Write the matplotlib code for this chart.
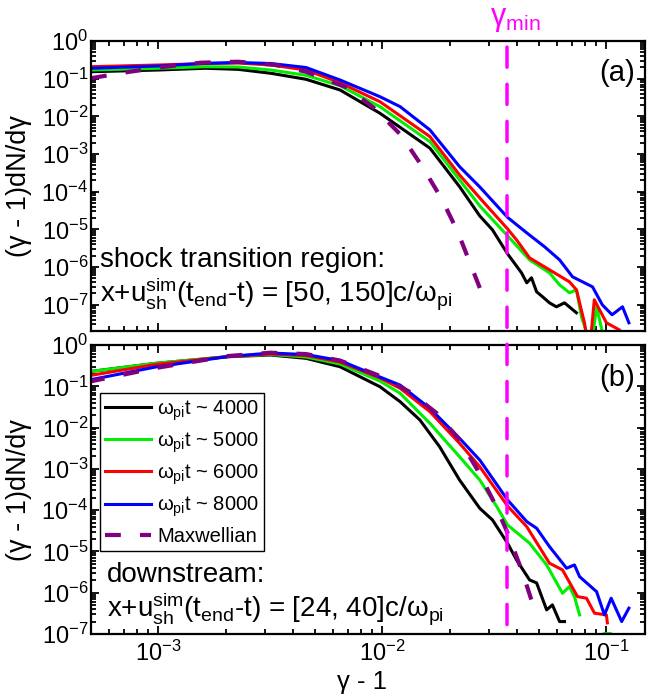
import numpy as np
import matplotlib.pyplot as plt
from matplotlib.patches import ConnectionPatch
from matplotlib.ticker import LogLocator, FixedLocator, LogFormatterMathtext, NullFormatter

plt.rcParams['font.family'] = ['Liberation Sans', 'DejaVu Sans']
plt.rcParams['mathtext.fontset'] = 'custom'
plt.rcParams['mathtext.rm'] = 'Liberation Sans'
plt.rcParams['mathtext.it'] = 'Liberation Sans:italic'
plt.rcParams['mathtext.bf'] = 'Liberation Sans:bold'
plt.rcParams['axes.unicode_minus'] = False

# spectra in the shock transition region, x = gamma - 1, y = (gamma - 1) dN/dgamma
trans_x_4000 = [5.0e-4, 1.0e-3, 1.62e-3, 2.27e-3, 3.18e-3, 4.56e-3, 6.47e-3, 9.75e-3, 1.63e-2, 2.21e-2,
                2.72e-2, 3.10e-2, 3.62e-2, 4.18e-2, 4.41e-2, 4.63e-2, 4.88e-2, 5.19e-2, 5.57e-2, 5.98e-2,
                6.50e-2, 7.35e-2]
trans_y_4000 = [0.153, 0.170, 0.189, 0.177, 0.139, 0.0964, 0.0501, 0.0121, 1.43e-3, 1.36e-4,
                2.28e-5, 9.7e-6, 2.24e-6, 7.0e-7, 3.81e-7, 5.18e-7, 2.20e-7, 1.62e-7, 1.12e-7, 8.8e-8,
                1.12e-7, 6.1e-8]

trans_x_5000 = [5.0e-4, 1.0e-3, 1.62e-3, 2.27e-3, 3.18e-3, 4.56e-3, 6.47e-3, 9.75e-3, 1.63e-2, 2.21e-2,
                2.72e-2, 3.62e-2, 4.54e-2, 5.57e-2, 6.18e-2, 6.84e-2, 7.35e-2, 7.74e-2, 8.15e-2, 8.49e-2,
                9.04e-2, 9.59e-2]
trans_y_5000 = [0.170, 0.189, 0.208, 0.204, 0.170, 0.123, 0.0652, 0.0181, 2.13e-3, 2.06e-4,
                4.2e-5, 6.73e-6, 1.55e-6, 7.0e-7, 3.37e-7, 2.07e-7, 2.48e-7, 4.78e-8, 1.91e-8, 5e-9,
                8.8e-8, 1.9e-8]

trans_x_6000 = [5.0e-4, 1.0e-3, 1.62e-3, 2.27e-3, 3.18e-3, 4.56e-3, 6.47e-3, 9.75e-3, 1.63e-2, 2.21e-2,
                2.72e-2, 3.62e-2, 3.97e-2, 4.54e-2, 5.57e-2, 6.84e-2, 7.35e-2, 7.98e-2, 8.39e-2, 8.83e-2,
                0.100, 0.114]
trans_y_6000 = [0.208, 0.231, 0.253, 0.261, 0.231, 0.170, 0.0783, 0.0245, 2.90e-3, 2.79e-4,
                6.85e-5, 1.03e-5, 5.26e-6, 1.75e-6, 8.43e-7, 4.05e-7, 2.48e-7, 3.31e-8, 5e-9, 1.35e-7,
                3.31e-8, 2.16e-8]

trans_x_8000 = [5.0e-4, 1.0e-3, 1.62e-3, 2.27e-3, 3.18e-3, 4.56e-3, 6.47e-3, 9.75e-3, 1.20e-2, 1.63e-2,
                2.21e-2, 2.72e-2, 3.62e-2, 4.41e-2, 5.30e-2, 6.18e-2, 7.06e-2, 8.67e-2, 9.59e-2, 0.106,
                0.118, 0.126]
trans_y_8000 = [0.189, 0.217, 0.256, 0.269, 0.253, 0.198, 0.0924, 0.0333, 0.0181, 4.36e-3,
                4.63e-4, 1.34e-4, 2.08e-5, 8.07e-6, 3.44e-6, 1.55e-6, 5.5e-7, 2.98e-7, 9.9e-8, 5.4e-8,
                8.8e-8, 3.31e-8]

trans_x_maxw = [5.0e-4, 7.35e-4, 1.07e-3, 1.55e-3, 2.27e-3, 3.36e-3, 4.56e-3, 6.95e-3, 9.17e-3, 1.21e-2,
                1.51e-2, 1.84e-2, 2.17e-2, 2.50e-2, 2.89e-2]
trans_y_maxw = [0.103, 0.151, 0.208, 0.266, 0.282, 0.231, 0.153, 0.0584, 0.0167, 3.21e-3,
                4.55e-4, 6.44e-5, 8.59e-6, 1.01e-6, 1.12e-7]

# spectra downstream
down_x_4000 = [4.9e-4, 9.7e-4, 2.05e-3, 3.16e-3, 4.56e-3, 6.47e-3, 9.75e-3, 1.20e-2, 1.47e-2, 1.80e-2,
               2.21e-2, 2.72e-2, 3.10e-2, 3.62e-2, 3.97e-2, 4.54e-2, 4.88e-2, 5.41e-2, 5.74e-2, 6.18e-2,
               6.50e-2]
down_y_4000 = [0.226, 0.360, 0.521, 0.573, 0.476, 0.298, 0.0978, 0.0424, 0.0153, 3.45e-3,
               5.38e-4, 1.11e-4, 5.79e-5, 1.58e-5, 6.23e-6, 2.04e-6, 1.73e-6, 3.84e-7, 5.07e-7, 2.0e-7,
               2.0e-7]

down_x_5000 = [4.9e-4, 9.7e-4, 2.05e-3, 3.16e-3, 4.56e-3, 6.47e-3, 9.75e-3, 1.20e-2, 1.63e-2, 2.21e-2,
               2.72e-2, 3.24e-2, 3.62e-2, 4.54e-2, 5.41e-2, 6.37e-2, 6.84e-2, 7.20e-2, 7.59e-2, np.nan,
               9.8e-2, 0.104]
down_y_5000 = [0.226, 0.360, 0.527, 0.589, 0.512, 0.347, 0.134, 0.0677, 0.0127, 1.97e-3,
               5.38e-4, 1.22e-4, 4.38e-5, 1.58e-5, 4.71e-6, 9.7e-7, 1.41e-6, 8.05e-7, 2.90e-7, np.nan,
               1.02e-7, 1.02e-7]

down_x_6000 = [4.9e-4, 9.7e-4, 2.05e-3, 3.16e-3, 4.56e-3, 6.47e-3, 9.75e-3, 1.20e-2, 1.63e-2, 2.21e-2,
               2.72e-2, 3.62e-2, 4.41e-2, 5.57e-2, 6.37e-2, 7.43e-2, 8.15e-2, 8.85e-2, 0.100, 0.101]
down_y_6000 = [0.181, 0.337, 0.527, 0.605, 0.557, 0.388, 0.159, 0.0895, 0.0243, 4.17e-3,
               1.13e-3, 1.26e-4, 3.98e-5, 5.18e-6, 3.56e-6, 8.05e-7, 7.36e-7, 3.19e-7, 2.90e-7, 1.86e-7]

down_x_8000 = [4.9e-4, 9.7e-4, 2.05e-3, 3.16e-3, 4.56e-3, 6.47e-3, 9.75e-3, 1.20e-2, 1.63e-2, 2.21e-2,
               2.72e-2, 3.62e-2, 4.41e-2, 4.88e-2, 5.57e-2, 6.64e-2, 7.20e-2, 7.59e-2, 9.04e-2, 9.80e-2,
               0.105, 0.117, 0.126]
down_y_8000 = [0.142, 0.293, 0.527, 0.640, 0.589, 0.421, 0.168, 0.107, 0.0293, 5.51e-3,
               1.64e-3, 1.77e-4, 5.27e-5, 3.65e-5, 1.31e-5, 3.92e-6, 4.71e-6, 2.45e-6, 1.06e-6, 2.90e-7,
               7.36e-7, 2.0e-7, 4.22e-7]

down_x_maxw = [4.9e-4, 9.7e-4, 2.05e-3, 3.16e-3, 4.56e-3, 6.47e-3, 9.75e-3, 1.32e-2, 1.75e-2, 2.21e-2,
               2.66e-2, 3.17e-2, 3.62e-2, 4.23e-2, 4.78e-2, 4.93e-2]
down_y_maxw = [0.129, 0.277, 0.542, 0.651, 0.605, 0.421, 0.178, 0.074, 0.0222, 5.01e-3,
               9.4e-4, 1.47e-4, 2.81e-5, 3.01e-6, 3.84e-7, 2.59e-7]

gamma_min = 0.036

times = [4000, 5000, 6000, 8000]
colors = ['black', '#00ee00', 'red', 'blue']
maxw_color = '#800080'

y_decades = [1e-7, 1e-6, 1e-5, 1e-4, 1e-3, 1e-2, 1e-1, 1e0]

trans_x = [trans_x_4000, trans_x_5000, trans_x_6000, trans_x_8000]
trans_y = [trans_y_4000, trans_y_5000, trans_y_6000, trans_y_8000]
down_x = [down_x_4000, down_x_5000, down_x_6000, down_x_8000]
down_y = [down_y_4000, down_y_5000, down_y_6000, down_y_8000]

fig = plt.figure(figsize=(6.47, 7.0), dpi=100)
ax_a = fig.add_axes([0.1406, 0.5271, 0.8556, 0.4143])
ax_b = fig.add_axes([0.1406, 0.0943, 0.8556, 0.4128])

for i in range(4):
    ax_a.plot(trans_x[i], trans_y[i], color=colors[i], lw=2.2)
    ax_b.plot(down_x[i], down_y[i], color=colors[i], lw=2.2,
              label=r'ω$_{\mathrm{pi}}$t ~ %d' % times[i])
ax_a.plot(trans_x_maxw, trans_y_maxw, color=maxw_color, lw=3, ls=(0, (3.8, 4.6)))
ax_b.plot(down_x_maxw, down_y_maxw, color=maxw_color, lw=3, ls=(0, (3.8, 4.6)), label='Maxwellian')

for ax in [ax_a, ax_b]:
    ax.set_xscale('log')
    ax.set_yscale('log')
    ax.set_xlim(5e-4, 0.148)
    ax.yaxis.set_major_locator(FixedLocator(y_decades))
    ax.yaxis.set_minor_locator(LogLocator(base=10, subs=np.arange(2, 10), numticks=20))
    ax.yaxis.set_major_formatter(LogFormatterMathtext())
    ax.yaxis.set_minor_formatter(NullFormatter())
    ax.xaxis.set_minor_formatter(NullFormatter())
    ax.tick_params(which='both', direction='in', top=True, right=True, width=1.3)
    ax.tick_params(which='major', length=6, labelsize=17)
    ax.tick_params(which='minor', length=3.5)
    ax.tick_params(axis='y', pad=2)
    ax.tick_params(axis='x', pad=5)
    for s in ax.spines.values():
        s.set_linewidth(1.6)
    ax.set_ylabel('(γ - 1)dN/dγ', fontsize=19.5)
    ax.yaxis.set_label_coords(-0.1065, 0.5)

ax_a.set_ylim(2e-8, 1)
ax_b.set_ylim(1e-7, 1)
ax_a.tick_params(labelbottom=False)
ax_b.set_xlabel('γ - 1', fontsize=18.5)
ax_b.xaxis.set_label_coords(0.489, -0.125)

ax_a.text(0.016, 0.221, 'shock transition region:', transform=ax_a.transAxes, fontsize=20)
ax_a.text(0.016, 0.101, r'x+u$_{\mathrm{sh}}^{\mathrm{sim}}$(t$_{\mathrm{end}}$-t) = [50, 150]c/ω$_{\mathrm{pi}}$',
          transform=ax_a.transAxes, fontsize=20)
ax_b.text(0.029, 0.181, 'downstream:', transform=ax_b.transAxes, fontsize=20)
ax_b.text(0.029, 0.060, r'x+u$_{\mathrm{sh}}^{\mathrm{sim}}$(t$_{\mathrm{end}}$-t) = [24, 40]c/ω$_{\mathrm{pi}}$',
          transform=ax_b.transAxes, fontsize=20)
ax_a.text(0.982, 0.89, '(a)', transform=ax_a.transAxes, fontsize=21, ha='right', va='center')
ax_b.text(0.982, 0.886, '(b)', transform=ax_b.transAxes, fontsize=21, ha='right', va='center')

leg = ax_b.legend(loc='upper left', bbox_to_anchor=(0.016, 0.834), borderaxespad=0, fontsize=14.5,
                  fancybox=False, edgecolor='black', framealpha=1, borderpad=0.25,
                  handlelength=2.3, handletextpad=0.3, labelspacing=0.38)
leg.get_frame().set_linewidth(1.0)

# gamma_min marker running through both panels
con = ConnectionPatch(xyA=(gamma_min, 0.979), coordsA=ax_a.get_xaxis_transform(),
                      xyB=(gamma_min, 0.0), coordsB=ax_b.get_xaxis_transform(),
                      color='#ff00ff', lw=2.5, ls=(0, (5.8, 4.9)))
fig.add_artist(con)
ax_a.annotate(r'γ$_{\mathrm{min}}$', xy=(gamma_min, 1.0), xycoords=ax_a.get_xaxis_transform(),
              xytext=(6, 5), textcoords='offset points', ha='center', va='bottom',
              color='#ff00ff', fontsize=22, annotation_clip=False)

fig.savefig('out.png', dpi=100)
